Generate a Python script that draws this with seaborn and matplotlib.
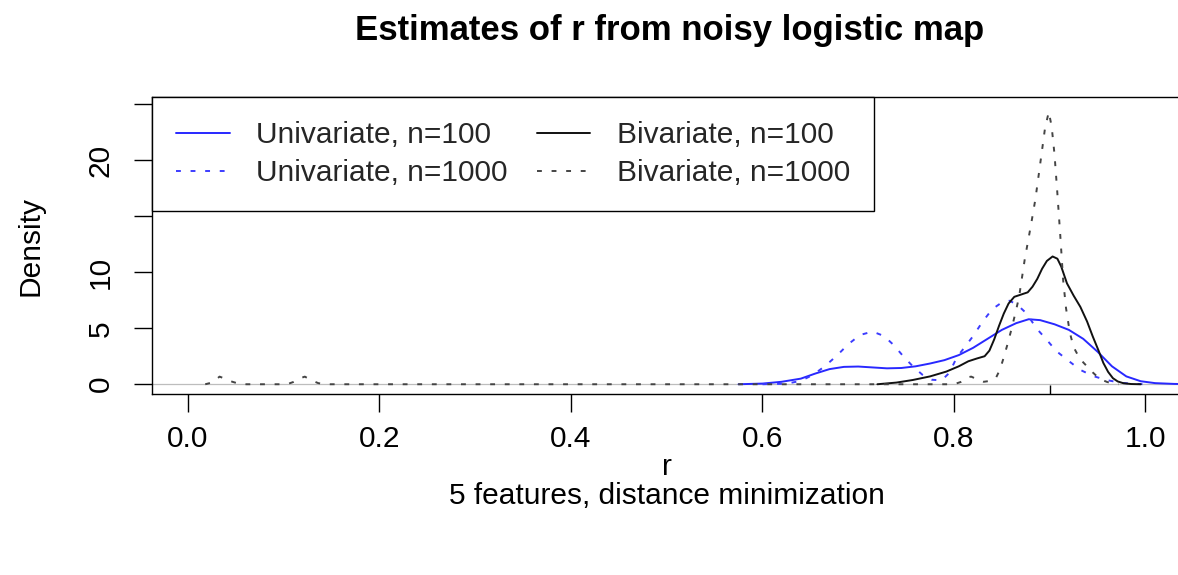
import matplotlib
matplotlib.use("Agg")
import matplotlib.pyplot as plt
import pandas as pd
import seaborn as sns

# Kernel density estimates of r: evaluation points and density values
uni100_r = [0.575, 0.60, 0.62, 0.64, 0.655, 0.67, 0.685, 0.70, 0.715, 0.73, 0.745,
            0.76, 0.775, 0.79, 0.805, 0.82, 0.835, 0.85, 0.865, 0.878, 0.89, 0.905,
            0.92, 0.935, 0.95, 0.965, 0.98, 0.995, 1.01, 1.03, 1.05]
uni100_d = [0.0, 0.06, 0.22, 0.5, 0.95, 1.35, 1.55, 1.58, 1.5, 1.42, 1.45,
            1.6, 1.85, 2.15, 2.6, 3.25, 4.05, 4.85, 5.45, 5.8, 5.72, 5.35,
            4.85, 4.05, 2.9, 1.6, 0.7, 0.27, 0.1, 0.03, 0.0]

uni1000_r = [0.60, 0.625, 0.64, 0.653, 0.665, 0.677, 0.69, 0.702, 0.715, 0.727, 0.737,
             0.747, 0.757, 0.767, 0.777, 0.787, 0.795, 0.803, 0.812, 0.82, 0.83, 0.84,
             0.85, 0.858, 0.866, 0.876, 0.886, 0.897, 0.907, 0.921, 0.932, 0.945,
             0.959, 0.975, 0.99, 1.0]
uni1000_d = [0.0, 0.05, 0.3, 0.85, 1.6, 2.5, 3.6, 4.4, 4.7, 4.3, 3.5,
             2.5, 1.6, 0.85, 0.4, 0.35, 1.0, 2.4, 3.4, 4.3, 5.6, 6.7,
             7.3, 7.45, 7.1, 6.3, 5.0, 3.95, 2.95, 2.0, 1.28, 0.74,
             0.38, 0.12, 0.03, 0.0]

biv100_r = [0.72, 0.74, 0.757, 0.775, 0.792, 0.805, 0.815, 0.824, 0.832, 0.837, 0.842,
            0.847, 0.852, 0.857, 0.863, 0.870, 0.877, 0.882, 0.887, 0.892, 0.897,
            0.903, 0.908, 0.912, 0.918, 0.925, 0.932, 0.939, 0.945, 0.951, 0.956,
            0.961, 0.966, 0.971, 0.977, 0.985, 0.995]
biv100_d = [0.0, 0.15, 0.38, 0.7, 1.13, 1.6, 2.05, 2.3, 2.5, 3.0, 4.0,
            5.2, 6.3, 7.2, 7.8, 8.0, 8.2, 8.7, 9.4, 10.3, 11.0,
            11.4, 11.2, 10.5, 9.0, 7.9, 6.9, 5.6, 4.25, 3.0, 1.9,
            1.1, 0.54, 0.25, 0.09, 0.02, 0.0]

biv1000_r = [0.018, 0.025, 0.033, 0.040, 0.046, 0.053, 0.061, 0.10, 0.105, 0.110, 0.116,
             0.122, 0.129, 0.136, 0.143, 0.80, 0.807, 0.813, 0.818, 0.824, 0.831,
             0.838, 0.844, 0.848, 0.852, 0.856, 0.860, 0.864, 0.868, 0.871, 0.874,
             0.877, 0.881, 0.885, 0.889, 0.892, 0.895, 0.899, 0.902, 0.905, 0.908,
             0.911, 0.914, 0.917, 0.921, 0.925, 0.930, 0.935, 0.940, 0.945, 0.950,
             0.955, 0.960, 0.965, 0.972]
biv1000_d = [0.0, 0.15, 0.68, 0.45, 0.23, 0.05, 0.0, 0.0, 0.05, 0.2, 0.5,
             0.68, 0.35, 0.1, 0.0, 0.0, 0.2, 0.6, 0.68, 0.45, 0.22,
             0.3, 0.6, 1.3, 2.4, 3.6, 4.9, 6.3, 7.8, 9.5, 11.2,
             12.6, 14.5, 16.5, 19.0, 20.9, 22.8, 24.3, 23.0, 20.5, 17.0,
             13.3, 9.3, 6.8, 4.6, 3.3, 2.5, 1.95, 1.5, 1.05, 0.65,
             0.38, 0.2, 0.08, 0.0]

true_r = [0.9]

labels = ["Univariate, n=100", "Univariate, n=1000",
          "Bivariate, n=100", "Bivariate, n=1000"]
xticks = [0.0, 0.2, 0.4, 0.6, 0.8, 1.0]
xtick_labels = ["0.0", "0.2", "0.4", "0.6", "0.8", "1.0"]
yticks = [0, 5, 10, 15, 20, 25]
ytick_labels = ["0", "5", "10", "", "20", ""]

series = [(uni100_r, uni100_d), (uni1000_r, uni1000_d),
          (biv100_r, biv100_d), (biv1000_r, biv1000_d)]
df = pd.concat(
    [pd.DataFrame({"r": r, "density": d, "estimate": lab})
     for lab, (r, d) in zip(labels, series)],
    ignore_index=True,
)

sns.set_theme(style="ticks")
plt.rcParams["font.family"] = ["Liberation Sans", "DejaVu Sans"]

FS = 21.5
W, H = 1178, 575
fig = plt.figure(figsize=(W / 100, H / 100), dpi=100)
left, right, top, bottom = 152, 1181, 97.3, 394
ax = fig.add_axes([left / W, 1 - bottom / H, (right - left) / W, (bottom - top) / H])

palette = {labels[0]: "#2828ff", labels[1]: "#3c3cff",
           labels[2]: "#111111", labels[3]: "#444444"}
dashes = {labels[0]: "", labels[1]: (2.5, 5),
          labels[2]: "", labels[3]: (2.5, 5)}

ax.axhline(0, color="#bdbdbd", lw=0.9, zorder=0)
sns.lineplot(data=df, x="r", y="density", hue="estimate", style="estimate",
             hue_order=labels, style_order=labels,
             palette=palette, dashes=dashes, estimator=None, sort=False,
             lw=1.4, ax=ax)
sns.rugplot(x=true_r, height=0.03, color="black", lw=1.2, ax=ax)

ax.set_xlim(-0.0376, 1.0371)
ax.set_ylim(-0.87, 25.6)
ax.set_xticks(xticks)
ax.set_xticklabels(xtick_labels)
ax.set_yticks(yticks)
ax.set_yticklabels(ytick_labels)
ax.tick_params(direction="out", length=13, width=1.0, color="black",
               labelsize=FS, labelcolor="black")
ax.tick_params(axis="x", pad=9)
ax.tick_params(axis="y", pad=24)
for t in ax.get_yticklabels():
    t.set_rotation(90)
    t.set_va("center")
    t.set_ha("center")

for s in ax.spines.values():
    s.set_visible(True)
    s.set_color("black")
    s.set_linewidth(1.0)

ax.set_xlabel("r", fontsize=FS, color="black")
ax.xaxis.set_label_coords(0.5, (bottom - 467) / (bottom - top))
ax.xaxis.label.set_va("center")
ax.set_ylabel("Density", fontsize=FS, color="black")
ax.yaxis.set_label_coords((30 - left) / (right - left), 0.5)
ax.yaxis.label.set_va("center")

ax.text(0.5, (bottom - 496) / (bottom - top), "5 features, distance minimization",
        transform=ax.transAxes, ha="center", va="center", fontsize=FS, color="black")
ax.text(0.503, (bottom - 31) / (bottom - top), "Estimates of r from noisy logistic map",
        transform=ax.transAxes, ha="center", va="center", fontsize=25,
        fontweight="bold", color="black")

sns.move_legend(ax, "upper left", bbox_to_anchor=(0, 1), borderaxespad=0, ncol=2,
                title=None, frameon=True, fancybox=False, framealpha=1,
                edgecolor="black", fontsize=FS, handlelength=1.8,
                handletextpad=0.89, columnspacing=0.97, borderpad=0.8,
                labelspacing=0.33)
ax.get_legend().get_frame().set_linewidth(1.0)

fig.savefig("out.png", dpi=100)
